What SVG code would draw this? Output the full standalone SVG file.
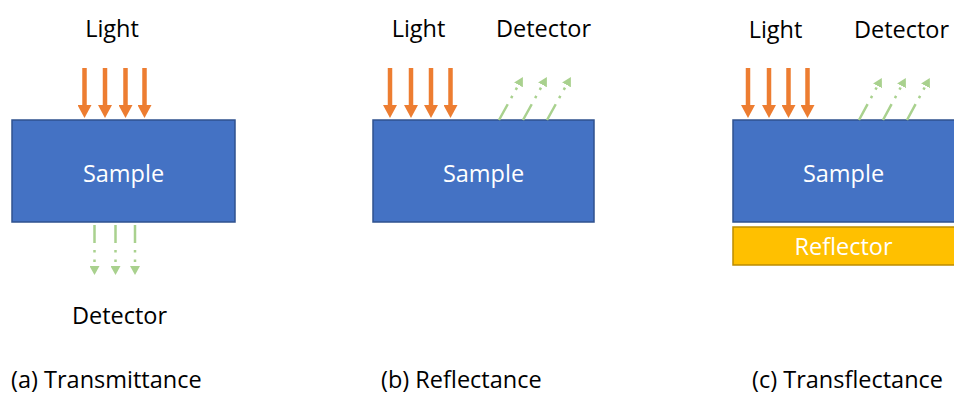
<svg xmlns="http://www.w3.org/2000/svg" width="954" height="396" viewBox="0 0 954 396">
  <style>
    text { font-family: "Open Sans", "Noto Sans", "DejaVu Sans", sans-serif; font-size: 23.5px; fill: #000000; }
    .mid { text-anchor: middle; }
    .inner { fill: #ffffff; }
    .sample { fill: #4472C4; stroke: #2F528F; stroke-width: 1.5; }
    .reflector { fill: #FFC000; stroke: #BC8C00; stroke-width: 1.5; }
    .light { stroke: #ED7D31; stroke-width: 4.5; fill: none; marker-end: url(#headOrange); }
    .signal { stroke: #A9D18E; stroke-width: 2.5; fill: none; stroke-dasharray: 18 7 2.5 7 2.5 7; marker-end: url(#headGreen); }
  </style>
  <defs>
    <marker id="headOrange" markerUnits="userSpaceOnUse" markerWidth="14" markerHeight="14" viewBox="0 0 14 14" refX="1" refY="7" orient="auto">
      <path d="M0,0 L13,7 L0,14 Z" fill="#ED7D31"/>
    </marker>
    <marker id="headGreen" markerUnits="userSpaceOnUse" markerWidth="10" markerHeight="10" viewBox="0 0 10 10" refX="1" refY="5" orient="auto">
      <path d="M0,0 L9,5 L0,10 Z" fill="#A9D18E"/>
    </marker>
  </defs>

  <!-- (a) transmittance -->
  <g id="sample-a">
    <rect class="sample" x="12" y="120" width="223" height="102"/>
    <text class="inner mid" x="123.5" y="182">Sample</text>
  </g>
  <g id="light-a"><text class="mid" x="112" y="37">Light</text></g>
  <g id="detector-a"><text class="mid" x="119.5" y="324">Detector</text></g>
  <g id="caption-a"><text x="11" y="388">(a) Transmittance</text></g>

  <!-- (b) reflectance -->
  <g id="sample-b">
    <rect class="sample" x="373" y="120" width="221" height="102"/>
    <text class="inner mid" x="483.5" y="182">Sample</text>
  </g>
  <g id="light-b"><text class="mid" x="418.5" y="37">Light</text></g>
  <g id="detector-b"><text class="mid" x="543.5" y="37">Detector</text></g>
  <g id="caption-b"><text x="381" y="388">(b) Reflectance</text></g>

  <!-- (c) transflectance -->
  <g id="sample-c">
    <rect class="sample" x="733" y="120" width="230" height="102"/>
    <text class="inner mid" x="843.5" y="182">Sample</text>
  </g>
  <g id="reflector-c">
    <rect class="reflector" x="733" y="227" width="230" height="38"/>
    <text class="inner mid" x="843.5" y="255">Reflector</text>
  </g>
  <g id="light-c"><text class="mid" x="775.5" y="38">Light</text></g>
  <g id="detector-c"><text class="mid" x="901.5" y="38">Detector</text></g>
  <g id="caption-c"><text x="752" y="388">(c) Transflectance</text></g>

  <g id="connectors">
    <!-- incident light -->
    <path class="light" d="M84.5,68 V106"/>
    <path class="light" d="M105,68 V106"/>
    <path class="light" d="M125.5,68 V106"/>
    <path class="light" d="M144.5,68 V106"/>
    <path class="light" d="M390,68 V106"/>
    <path class="light" d="M411,68 V106"/>
    <path class="light" d="M431,68 V106"/>
    <path class="light" d="M450.5,68 V106"/>
    <path class="light" d="M748,68 V106"/>
    <path class="light" d="M769,68 V106"/>
    <path class="light" d="M788.5,68 V106"/>
    <path class="light" d="M807.5,68 V106"/>
    <!-- transmitted signal -->
    <path class="signal" d="M94.5,225 V267"/>
    <path class="signal" d="M115.5,225 V267"/>
    <path class="signal" d="M135,225 V267"/>
    <!-- reflected signal -->
    <path class="signal" d="M499,120 L519,84"/>
    <path class="signal" d="M523,120 L543,84"/>
    <path class="signal" d="M547,120 L567,84"/>
    <path class="signal" d="M859,120 L878,85"/>
    <path class="signal" d="M883,120 L902,85"/>
    <path class="signal" d="M907,120 L926,85"/>
  </g>
</svg>
